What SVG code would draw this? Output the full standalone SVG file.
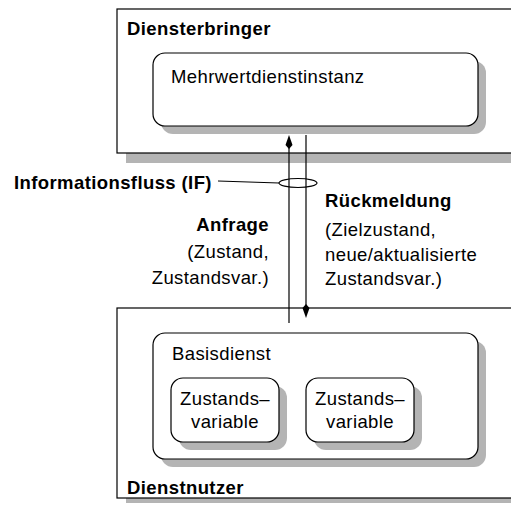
<svg xmlns="http://www.w3.org/2000/svg" width="511" height="508" viewBox="0 0 511 508">
  <style>
    .frame { fill: #ffffff; stroke: #000000; stroke-width: 1.2; }
    .shadow { fill: #b4b4b4; stroke: none; }
    .txt { font-family: "Liberation Sans", Arial, sans-serif; font-size: 18.5px; letter-spacing: 0.4px; fill: #000000; }
    .bold { font-weight: bold; }
    .line { stroke: #000000; stroke-width: 1.2; fill: none; }
    .head { fill: #000000; stroke: none; }
  </style>

  <!-- Provider container -->
  <g id="diensterbringer">
    <rect class="shadow" x="126" y="18" width="400" height="145"/>
    <rect class="frame" x="117" y="9" width="400" height="144"/>
    <text class="txt bold" x="127" y="35">Diensterbringer</text>
  </g>

  <g id="mehrwertdienstinstanz">
    <rect class="shadow" x="161" y="61" width="325" height="73" rx="12"/>
    <rect class="frame" x="153" y="53" width="325" height="73" rx="12"/>
    <text class="txt" x="171" y="83">Mehrwertdienstinstanz</text>
  </g>

  <!-- Consumer container -->
  <g id="dienstnutzer">
    <rect class="shadow" x="126" y="316" width="400" height="187"/>
    <rect class="frame" x="117" y="308" width="400" height="190"/>
    <text class="txt bold" x="127" y="494">Dienstnutzer</text>
  </g>

  <g id="basisdienst">
    <rect class="shadow" x="161" y="341" width="325" height="126" rx="12"/>
    <rect class="frame" x="153" y="333" width="325" height="126" rx="12"/>
    <text class="txt" x="172" y="360">Basisdienst</text>
  </g>

  <g id="zustandsvariable1">
    <rect class="shadow" x="179" y="386" width="108" height="64" rx="12"/>
    <rect class="frame" x="171" y="378" width="108" height="64" rx="12"/>
    <text class="txt" x="225" y="405" text-anchor="middle">Zustands–</text>
    <text class="txt" x="225" y="428" text-anchor="middle">variable</text>
  </g>

  <g id="zustandsvariable2">
    <rect class="shadow" x="314" y="386" width="108" height="64" rx="12"/>
    <rect class="frame" x="306" y="378" width="108" height="64" rx="12"/>
    <text class="txt" x="360" y="405" text-anchor="middle">Zustands–</text>
    <text class="txt" x="360" y="428" text-anchor="middle">variable</text>
  </g>

  <!-- Information flow connectors -->
  <g id="connectors">
    <line class="line" x1="289" y1="140" x2="289" y2="323"/>
    <path class="head" d="M289,135 L292.5,145 L289,149 L285.5,145 Z"/>
    <line class="line" x1="306" y1="135" x2="306" y2="313"/>
    <path class="head" d="M306,318 L302.5,308 L306,304 L309.5,308 Z"/>
    <ellipse class="line" cx="298" cy="183" rx="19" ry="4.5"/>
    <line class="line" x1="218" y1="181" x2="279" y2="183"/>
  </g>

  <g id="labels">
    <text class="txt bold" x="14" y="189">Informationsfluss (IF)</text>
    <text class="txt bold" x="269" y="231" text-anchor="end">Anfrage</text>
    <text class="txt" x="269" y="258" text-anchor="end">(Zustand,</text>
    <text class="txt" x="269" y="284" text-anchor="end">Zustandsvar.)</text>
    <text class="txt bold" x="325" y="207">Rückmeldung</text>
    <text class="txt" x="325" y="236">(Zielzustand,</text>
    <text class="txt" x="325" y="261">neue/aktualisierte</text>
    <text class="txt" x="325" y="285">Zustandsvar.)</text>
  </g>
</svg>
